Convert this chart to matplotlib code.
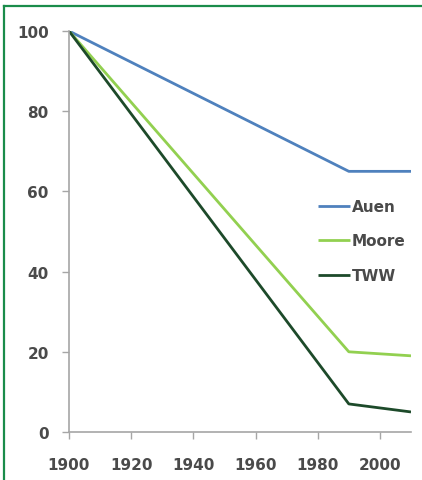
import matplotlib
matplotlib.use("Agg")
import matplotlib.pyplot as plt
from matplotlib.lines import Line2D

# データ
years = [1900, 1990, 2010]
auen = [100, 65, 65]
moore = [100, 20, 19]
tww = [100, 7, 5]
series_names = ["Auen", "Moore", "TWW"]
series_colors = ["#4f81bd", "#92d050", "#1d4a2a"]
x_ticks = [1900, 1920, 1940, 1960, 1980, 2000]
y_ticks = [0, 20, 40, 60, 80, 100]

W, H = 422, 481
fig = plt.figure(figsize=(W / 100, H / 100), dpi=100)
ax = fig.add_axes([69 / W, 1 - 433 / H, (411 - 69) / W, (433 - 32) / H])

for vals, name, col in zip([auen, moore, tww], series_names, series_colors):
    ax.plot(years, vals, color=col, lw=2.0, label=name, solid_capstyle="butt")

ax.set_xlim(1900, 2010)
ax.set_ylim(0, 100)
ax.set_xticks(x_ticks)
ax.set_yticks(y_ticks)
ax.tick_params(colors="#a6a6a6", labelcolor="#4a4a4a", labelsize=11,
               length=5, width=1, direction="out")
ax.tick_params(axis="x", pad=13)
ax.tick_params(axis="y", pad=9.5)
for lab in ax.get_xticklabels() + ax.get_yticklabels():
    lab.set_fontweight("bold")
for s in ["top", "right"]:
    ax.spines[s].set_visible(False)
for s in ["left", "bottom"]:
    ax.spines[s].set_color("#a6a6a6")
    ax.spines[s].set_linewidth(1.2)
ax.margins(0)

leg = ax.legend(loc="center left", bbox_to_anchor=(318 / W, 1 - 242 / H),
                bbox_transform=fig.transFigure, frameon=False,
                prop={"size": 11, "weight": "bold"},
                handlelength=2.1, handletextpad=0.13, labelspacing=1.27,
                borderpad=0, borderaxespad=0)
for t in leg.get_texts():
    t.set_color("#4a4a4a")

# 緑の枠
border = "#1a8c4a"
fig.add_artist(Line2D([4 / W, 1], [1 - 7 / H, 1 - 7 / H], color=border, lw=1.6,
                      transform=fig.transFigure))
fig.add_artist(Line2D([4 / W, 4 / W], [0, 1 - 7 / H], color=border, lw=1.6,
                      transform=fig.transFigure))

fig.savefig("out.png", dpi=100)
